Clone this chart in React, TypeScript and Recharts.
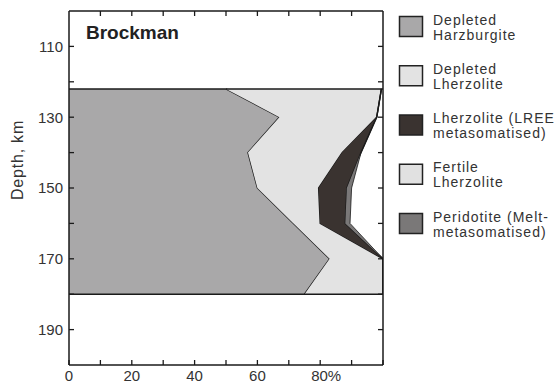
import { Area, AreaChart, ReferenceLine, XAxis, YAxis } from "recharts";

const depths = [122, 130, 140, 150, 160, 170, 180];
const harzburgite = [50, 67, 57, 60, 71.5, 83, 75];
const depletedLherzolite = [49.5, 31, 30, 19.5, 8.5, 17, 25];
const lreeLherzolite = [0, 0, 6, 9, 8, 0, 0];
const fertileLherzolite = [0, 0, 0, 0, 0, 0, 0];
const meltPeridotite = [0, 0, 0, 1.5, 1.5, 0, 0];

const xTicks = [0, 10, 20, 30, 40, 50, 60, 70, 80, 90, 100];
const xLabels = [0, 20, 40, 60, 80];
const yTicks = [110, 120, 130, 140, 150, 160, 170, 180, 190];
const yLabels = [110, 130, 150, 170, 190];
const layerBounds = [122, 180];
const X_DOMAIN = [0, 100];
const Y_DOMAIN = [100, 200];

const series = [
  { key: "harz", label: ["Depleted", "Harzburgite"], fill: "#a9a8a9", stroke: "#1a1a1a", values: harzburgite },
  { key: "dlherz", label: ["Depleted", "Lherzolite"], fill: "#e3e3e3", stroke: "#1a1a1a", values: depletedLherzolite },
  { key: "lree", label: ["Lherzolite (LREE", "metasomatised)"], fill: "#3a3330", stroke: "#1a1a1a", values: lreeLherzolite },
  { key: "flherz", label: ["Fertile", "Lherzolite"], fill: "#e1e1e1", stroke: "none", values: fertileLherzolite },
  { key: "melt", label: ["Peridotite (Melt-", "metasomatised)"], fill: "#7a7878", stroke: "#1a1a1a", values: meltPeridotite },
];

const data = depths.map((depth, i) => {
  const row: Record<string, number> = { depth };
  series.forEach((s) => (row[s.key] = s.values[i]));
  return row;
});

const FONT = "'Liberation Sans', Arial, sans-serif";
const INK = "#1a1a1a";
const TEXT = "#333";
const TICK = 5;

const W = 560;
const H = 383;
const MARGIN = { top: 10, right: 176, bottom: 0, left: 0 };
const X_AXIS_H = 18;
const Y_AXIS_W = 69;
const PLOT_LEFT = MARGIN.left + Y_AXIS_W;
const PLOT_TOP = MARGIN.top + 1;
const PLOT_W = W - MARGIN.left - MARGIN.right - Y_AXIS_W - 1;
const PLOT_H = H - MARGIN.top - MARGIN.bottom - X_AXIS_H - 1;

function BottomTick(props: any) {
  const { x, y, payload } = props;
  const v = payload.value;
  const pct = v === 80;
  return (
    <g>
      <line x1={x} x2={x} y1={y} y2={y - TICK} stroke={INK} strokeWidth={1.3} />
      {xLabels.includes(v) && (
        <text
          x={pct ? x - 9 : x}
          y={y + 5}
          dy="0.71em"
          textAnchor={pct ? "start" : "middle"}
          fontFamily={FONT}
          fontSize={15}
          fill={TEXT}
        >
          {pct ? `${v}%` : v}
        </text>
      )}
    </g>
  );
}

function LeftTick(props: any) {
  const { x, y, payload } = props;
  const v = payload.value;
  return (
    <g>
      <line x1={x} x2={x + TICK} y1={y} y2={y} stroke={INK} strokeWidth={1.3} />
      {yLabels.includes(v) && (
        <text x={x - 6} y={y} dy="0.355em" textAnchor="end" fontFamily={FONT} fontSize={15} fill={TEXT}>
          {v}
        </text>
      )}
    </g>
  );
}

// inward tick marks on the top and right frame edges, same tick values as the axes
function FrameTicks() {
  const sx = (v: number) => PLOT_LEFT + ((v - X_DOMAIN[0]) / (X_DOMAIN[1] - X_DOMAIN[0])) * PLOT_W;
  const sy = (v: number) => PLOT_TOP + ((v - Y_DOMAIN[0]) / (Y_DOMAIN[1] - Y_DOMAIN[0])) * PLOT_H;
  const right = PLOT_LEFT + PLOT_W;
  return (
    <g stroke={INK} strokeWidth={1.3}>
      {xTicks.slice(1, -1).map((v) => (
        <line key={`t${v}`} x1={sx(v)} x2={sx(v)} y1={PLOT_TOP} y2={PLOT_TOP + TICK} />
      ))}
      {yTicks.map((v) => (
        <line key={`r${v}`} x1={right} x2={right - TICK} y1={sy(v)} y2={sy(v)} />
      ))}
    </g>
  );
}

function Overlay() {
  return (
    <svg width={W} height={H} style={{ position: "absolute", left: 0, top: 0, pointerEvents: "none" }}>
      <FrameTicks />
      <text x={86} y={39} fontFamily={FONT} fontSize={19} fontWeight="bold" fill="#222">
        Brockman
      </text>
      <text
        x={17}
        y={160}
        transform="rotate(-90, 17, 160)"
        textAnchor="middle"
        dominantBaseline="central"
        fontFamily={FONT}
        fontSize={16}
        letterSpacing={0.8}
        fill={TEXT}
      >
        Depth, km
      </text>
      {series.map((s, i) => {
        const top = 16 + i * 49.25;
        return (
          <g key={s.key}>
            <rect x={399.5} y={top + 0.5} width={23} height={20} fill={s.fill} stroke="#222" strokeWidth={1.5} />
            {s.label.map((line, j) => (
              <text
                key={j}
                x={433}
                y={top + 8.5 + j * 15}
                fontFamily={FONT}
                fontSize={14}
                letterSpacing={1}
                fill={TEXT}
              >
                {line}
              </text>
            ))}
          </g>
        );
      })}
    </svg>
  );
}

const axisLine = { stroke: INK, strokeWidth: 1.5 };

export default function App() {
  return (
    <div style={{ position: "absolute", left: 0, top: 0, width: W, height: H, background: "#fff" }}>
      <AreaChart width={W} height={H} layout="vertical" data={data} margin={MARGIN}>
        <XAxis
          type="number"
          domain={X_DOMAIN}
          allowDataOverflow
          ticks={xTicks}
          interval={0}
          height={X_AXIS_H}
          tickSize={0}
          tickMargin={0}
          tickLine={false}
          tick={<BottomTick />}
          axisLine={axisLine}
        />
        <XAxis
          xAxisId="top"
          orientation="top"
          type="number"
          domain={X_DOMAIN}
          allowDataOverflow
          height={1}
          tick={false}
          tickLine={false}
          axisLine={axisLine}
        />
        <YAxis
          dataKey="depth"
          type="number"
          domain={Y_DOMAIN}
          allowDataOverflow
          width={Y_AXIS_W}
          ticks={yTicks}
          interval={0}
          tickSize={0}
          tickMargin={0}
          tickLine={false}
          tick={<LeftTick />}
          axisLine={axisLine}
        />
        <YAxis
          yAxisId="right"
          dataKey="depth"
          orientation="right"
          type="number"
          domain={Y_DOMAIN}
          allowDataOverflow
          width={1}
          tick={false}
          tickLine={false}
          axisLine={axisLine}
        />
        {series.map((s) => (
          <Area
            key={s.key}
            dataKey={s.key}
            name={s.label.join(" ")}
            stackId="a"
            type="linear"
            fill={s.fill}
            fillOpacity={1}
            stroke={s.stroke}
            strokeWidth={s.key === "melt" ? 0.8 : 1.4}
            dot={false}
            activeDot={false}
            isAnimationActive={false}
          />
        ))}
        {/* invisible series so the top and right frame axes get drawn */}
        <Area
          xAxisId="top"
          yAxisId="right"
          dataKey="harz"
          type="linear"
          fill="none"
          stroke="none"
          dot={false}
          activeDot={false}
          legendType="none"
          isAnimationActive={false}
        />
        {layerBounds.map((d) => (
          <ReferenceLine key={d} y={d} stroke={INK} strokeWidth={1.5} />
        ))}
      </AreaChart>
      <Overlay />
    </div>
  );
}
